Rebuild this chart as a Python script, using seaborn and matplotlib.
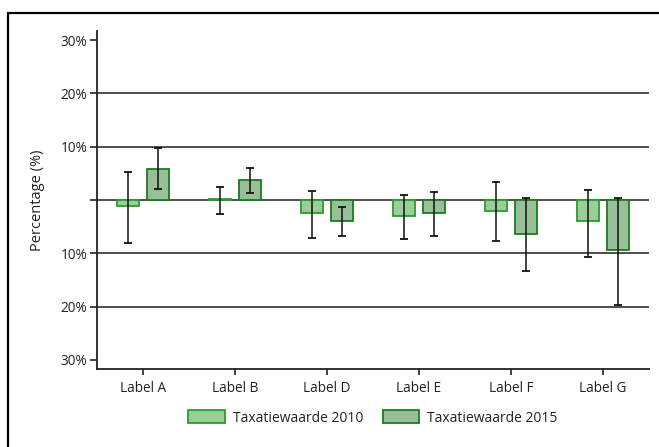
import pandas as pd
import matplotlib.pyplot as plt
import seaborn as sns
from matplotlib.patches import Rectangle, Patch

# data (percentages)
labels = ["Label A", "Label B", "Label D", "Label E", "Label F", "Label G"]
series = ["Taxatiewaarde 2010", "Taxatiewaarde 2015"]
val_2010 = [-1.1, 0.2, -2.4, -3.0, -2.0, -3.9]
low_2010 = [-8.1, -2.6, -7.1, -7.3, -7.6, -10.6]
high_2010 = [5.3, 2.4, 1.7, 0.9, 3.4, 1.9]
val_2015 = [5.8, 3.8, -3.9, -2.4, -6.4, -9.4]
low_2015 = [2.1, 1.3, -6.7, -6.8, -13.3, -19.7]
high_2015 = [9.8, 6.0, -1.3, 1.5, 0.4, 0.4]

fill_colors = ["#98cf98", "#98c098"]
edge_colors = ["#2e9a2e", "#1e7a1e"]
ink = "#222222"

df = pd.DataFrame({
    "label": labels * 2,
    "serie": [series[0]] * len(labels) + [series[1]] * len(labels),
    "value": val_2010 + val_2015,
})

sns.set_style("white")
plt.rcParams["font.family"] = ["Open Sans", "DejaVu Sans"]

fig = plt.figure(figsize=(6.59, 4.47), dpi=100)
ax = fig.add_axes([97 / 659, 1 - 369 / 447, 552 / 659, 338 / 447])

# gridlines behind bars
for lvl in [-20, -10, 0, 10, 20]:
    ax.axhline(lvl, color="#404040", lw=1.3, zorder=0)

sns.barplot(data=df, x="label", y="value", hue="serie", order=labels,
            hue_order=series, palette=fill_colors, width=0.64, gap=0.25,
            errorbar=None, linewidth=1.3, saturation=1, ax=ax, zorder=2)

lows = [low_2010, low_2015]
highs = [high_2010, high_2015]
vals = [val_2010, val_2015]
bar_containers = list(ax.containers)
for i, cont in enumerate(bar_containers):
    xs = []
    for bar in cont:
        bar.set_edgecolor(edge_colors[i])
        xs.append(bar.get_x() + bar.get_width() / 2)
    v = vals[i]
    yerr = [[v[k] - lows[i][k] for k in range(len(v))],
            [highs[i][k] - v[k] for k in range(len(v))]]
    ax.errorbar(xs, v, yerr=yerr, fmt="none", ecolor="#111111",
                elinewidth=1.1, capsize=2.6, capthick=1.3, zorder=3)

ax.set_xlim(-0.5, 5.5)
ax.set_ylim(-31.7, 31.7)
yticks = [-30, -20, -10, 0, 10, 20, 30]
ax.set_yticks(yticks)
ax.set_yticklabels(["" if t == 0 else f"{abs(t)}%" for t in yticks])
ax.set_xlabel("")
ax.set_ylabel("Percentage (%)", fontsize=10.5, color=ink, labelpad=11)
ax.tick_params(axis="both", direction="out", length=5, width=1.2,
               color=ink, labelcolor=ink, labelsize=9.8,
               left=True, bottom=True)
ax.tick_params(axis="y", pad=2)
ax.tick_params(axis="x", length=4, pad=5)

sns.despine(ax=ax)
for s in ["left", "bottom"]:
    ax.spines[s].set_color(ink)
    ax.spines[s].set_linewidth(1.3)

ax.get_legend().remove()
handles = [Patch(facecolor=fill_colors[i], edgecolor=edge_colors[i], lw=1.3)
           for i in range(2)]
fig.legend(handles, series, loc="center", bbox_to_anchor=(373 / 659, 1 - 418 / 447),
           ncol=2, frameon=False, fontsize=10, handlelength=2.6, handleheight=1.05,
           handletextpad=0.6, columnspacing=1.4, labelcolor=ink)

# outer frame, only left and top edges visible
fig.add_artist(Rectangle((8 / 659, -0.2), 1.5, 1.2 - 13 / 447, fill=False,
                         lw=1.6, edgecolor="#000000", transform=fig.transFigure))

fig.savefig("out.png", dpi=100)
